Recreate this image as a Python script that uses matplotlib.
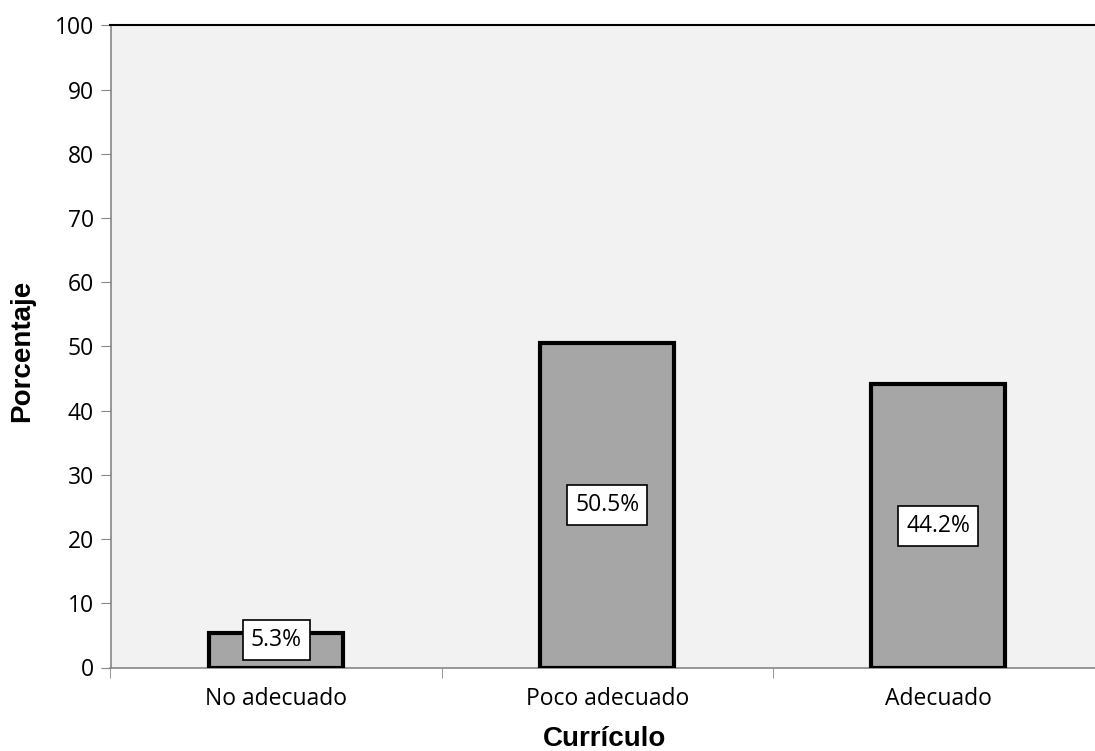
import numpy as np
import matplotlib.pyplot as plt

categorias = ['No adecuado', 'Poco adecuado', 'Adecuado']
porcentajes = [5.3, 50.5, 44.2]
etiquetas = ['5.3%', '50.5%', '44.2%']

fig = plt.figure(figsize=(10.95, 7.51), dpi=100)
W, H = 1095.0, 751.0
left, right, top, bottom = 110.5, 1104.0, 25.5, 667.5
ax = fig.add_axes([left / W, 1 - bottom / H, (right - left) / W, (bottom - top) / H])
ax.set_facecolor('#f2f2f2')

x = np.arange(len(categorias))
ax.bar(x, porcentajes, width=0.405, color='#a6a6a6', edgecolor='black',
       linewidth=3, zorder=3)

for xi, v, t in zip(x, porcentajes, etiquetas):
    ax.text(xi, max(v / 2, 4.3), t, ha='center', va='center', fontsize=16.5,
            family='Open Sans', zorder=4,
            bbox=dict(boxstyle='square,pad=0.35', fc='white', ec='black', lw=1.2))

ax.set_xlim(-0.5, 2.5)
ax.set_ylim(0, 100)
ax.set_yticks(np.arange(0, 101, 10))
ax.set_xticks(x)
ax.set_xticklabels(categorias, family='Open Sans', fontsize=16.5)
ax.set_xticks([-0.5, 0.5, 1.5, 2.5], minor=True)
ax.tick_params(axis='x', which='major', length=0, pad=14)
ax.tick_params(axis='x', which='minor', length=7, color='#868686')
ax.tick_params(axis='y', length=7, color='#868686', labelsize=16.5, pad=5)
for lab in ax.get_yticklabels():
    lab.set_family('Open Sans')

ax.spines['right'].set_visible(False)
ax.spines['top'].set_color('black')
ax.spines['top'].set_linewidth(1.5)
ax.spines['left'].set_color('#868686')
ax.spines['bottom'].set_color('#868686')
ax.spines['left'].set_linewidth(1.2)
ax.spines['bottom'].set_linewidth(1.2)

fig.text(22 / W, 1 - 351 / H, 'Porcentaje', rotation=90, ha='center', va='center',
         fontsize=20, fontweight='bold', family='Liberation Sans')
fig.text(605 / W, 1 - 739 / H, 'Currículo', ha='center', va='center',
         fontsize=20, fontweight='bold', family='Liberation Sans')

plt.savefig('out.png', dpi=100)
